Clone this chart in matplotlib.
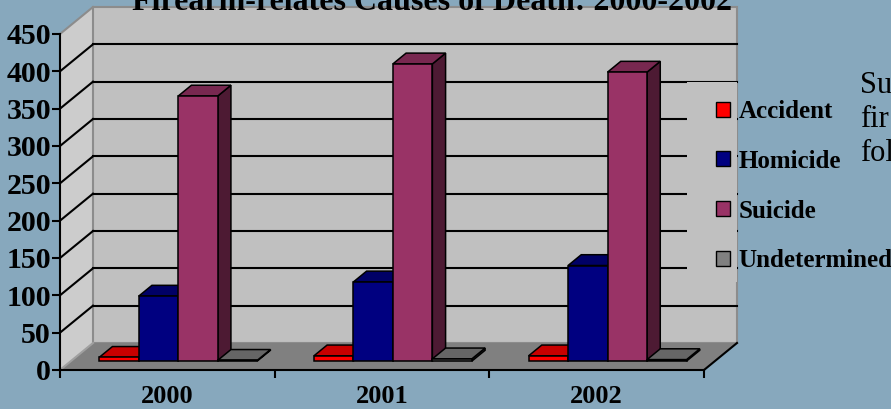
import matplotlib
matplotlib.use("Agg")
import matplotlib.pyplot as plt
from matplotlib.patches import Polygon, Patch, Rectangle
from matplotlib.lines import Line2D
from matplotlib.transforms import IdentityTransform

# firearm deaths by cause and year
years = ["2000", "2001", "2002"]
causes = ["Accident", "Homicide", "Suicide", "Undetermined"]
accident = [5, 7, 7]
homicide = [87, 106, 128]
suicide = [355, 398, 387]
undetermined = [1, 3, 2]
series = [accident, homicide, suicide, undetermined]

yticks = list(range(0, 451, 50))
title = "Firearm-relates Causes of Death: 2000-2002"
side_text = ["Su", "fir", "fol"]

# front / top / side shades for each series
front_col = ["#FF0000", "#000080", "#993366", "#808080"]
top_col = ["#C80000", "#000066", "#782850", "#666666"]
side_col = ["#960000", "#00004A", "#4D1A33", "#4A4A4A"]

bg = "#87A8BD"
serif = "Liberation Serif"

W, H = 891, 409
fig = plt.figure(figsize=(W / 100, H / 100), dpi=100, facecolor=bg)
ax = fig.add_axes([60 / W, 39 / H, 644 / W, 336 / H])
ax.set_xlim(0, 3)
ax.set_ylim(0, 450)
ax.set_autoscale_on(False)
ax.patch.set_visible(False)

DEPTH = (33, 27)  # pixel offset of the back wall
ident = IdentityTransform()


def proj(x, y, z):
    px, py = ax.transData.transform((x, y))
    return (px + z * DEPTH[0], py + z * DEPTH[1])


def face(pts, fc, ec="none", lw=0, zorder=0.5):
    p = Polygon([proj(*q) for q in pts], closed=True, fc=fc, ec=ec, lw=lw,
                transform=ident, clip_on=False, zorder=zorder)
    ax.add_patch(p)


def seg(a, b, color="black", lw=1.5, zorder=0.6):
    (x0, y0), (x1, y1) = proj(*a), proj(*b)
    ax.add_line(Line2D([x0, x1], [y0, y1], color=color, lw=lw,
                       transform=ident, clip_on=False, zorder=zorder))


# walls and floor
face([(0, 0, 0), (0, 450, 0), (0, 450, 1), (0, 0, 1)], "#CCCCCC")
face([(0, 0, 1), (3, 0, 1), (3, 450, 1), (0, 450, 1)], "#C0C0C0",
     ec="#8C8C8C", lw=1.5)
face([(0, 0, 0), (3, 0, 0), (3, 0, 1), (0, 0, 1)], "#808080")
seg((3, 0, 0), (3, 0, 1))
seg((0, 0, 0), (0, 0, 1), color="#A0A0A0")
seg((0, 450, 0), (0, 450, 1), color="#8C8C8C")

# gridlines on the back and side walls
for v in yticks[1:-1]:
    seg((0, v, 1), (3, v, 1))
    seg((0, v, 0), (0, v, 1))

# 3d bars
bw = 0.184
start = (1 - 4 * bw) / 2
z0, z1 = 0.33, 0.73
for j in range(len(years)):
    for s, vals in enumerate(series):
        v = vals[j]
        xa = j + start + s * bw
        xb = xa + bw
        kw = dict(ec="black", lw=1.1, zorder=3)
        face([(xb, 0, z0), (xb, 0, z1), (xb, v, z1), (xb, v, z0)], side_col[s], **kw)
        face([(xa, v, z0), (xb, v, z0), (xb, v, z1), (xa, v, z1)], top_col[s], **kw)
        face([(xa, 0, z0), (xb, 0, z0), (xb, v, z0), (xa, v, z0)], front_col[s], **kw)

# axes
for side in ["top", "right"]:
    ax.spines[side].set_visible(False)
for side in ["left", "bottom"]:
    ax.spines[side].set_linewidth(1.5)
    ax.spines[side].set_zorder(2.5)

ax.set_yticks(yticks)
ax.set_yticklabels([str(t) for t in yticks])
ax.set_xticks([0, 1, 2, 3])
ax.set_xticklabels([])
ax.set_xticks([0.5, 1.5, 2.5], minor=True)
ax.set_xticklabels(years, minor=True)
ax.tick_params(axis="y", direction="out", length=6, width=1.5, pad=0.5)
ax.tick_params(axis="x", which="major", direction="out", length=6, width=1.5)
ax.tick_params(axis="x", which="minor", length=0, pad=10.5)
for lab in ax.get_yticklabels() + ax.get_xticklabels(minor=True):
    lab.set_fontfamily(serif)
    lab.set_fontweight("bold")
for lab in ax.get_yticklabels():
    lab.set_fontsize(21.5)
for lab in ax.get_xticklabels(minor=True):
    lab.set_fontsize(19)

# legend panel
fig.patches.append(Rectangle((687 / W, (H - 282) / H), 50 / W, 200 / H,
                             transform=fig.transFigure, fc="#C0C0C0",
                             ec="none", zorder=1))
handles = [Patch(fc=c, ec="black", lw=1) for c in front_col]
fig.legend(handles, causes, loc="upper left",
           bbox_to_anchor=(716 / W, (H - 100) / H), frameon=False,
           prop=dict(family=serif, weight="bold", size=18),
           handlelength=0.55, handleheight=0.55, handletextpad=0.35,
           labelspacing=1.07, borderpad=0, borderaxespad=0)

# title (runs off the top edge) and slide text
fig.text(432 / W, (H - 10) / H, title, ha="center", va="baseline",
         fontsize=23, fontweight="bold", family=serif)
for i, t in enumerate(side_text):
    fig.text(860 / W, (H - 93 - 34 * i) / H, t, ha="left", va="baseline",
             fontsize=22, family=serif)

fig.savefig("out.png", dpi=100, facecolor=bg)
